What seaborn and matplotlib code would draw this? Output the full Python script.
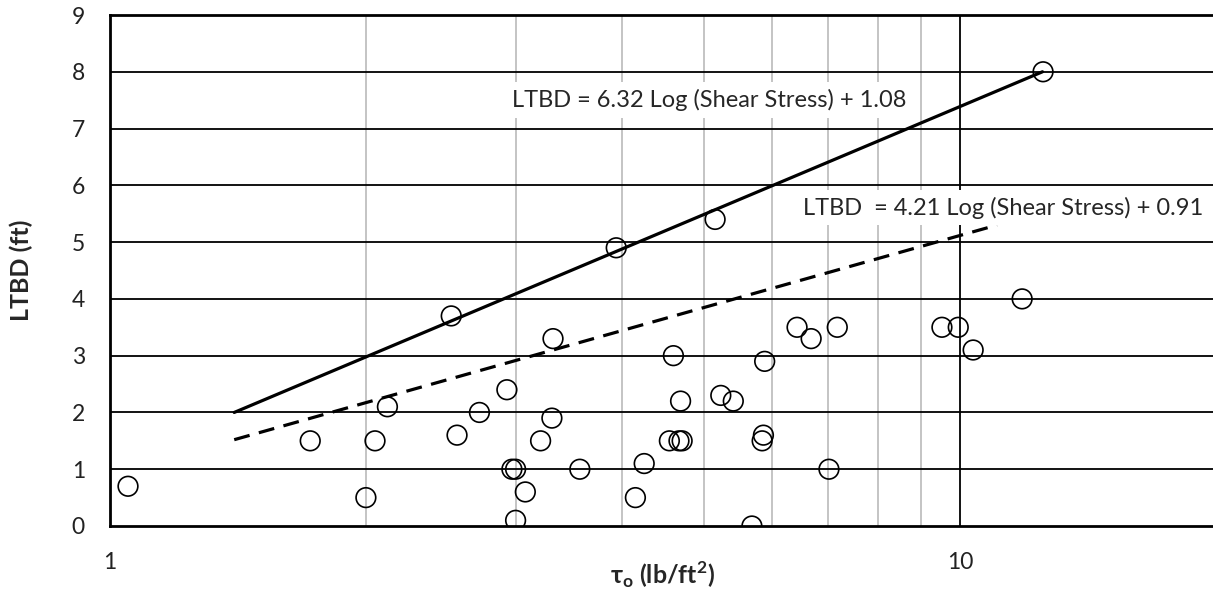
import numpy as np
import pandas as pd
import seaborn as sns
import matplotlib.pyplot as plt
from matplotlib.ticker import FixedLocator, NullFormatter

# shear stress (lb/ft2) and LTBD (ft)
tau = [1.05, 1.72, 2.0, 2.05, 2.12, 2.52, 2.56, 2.72, 2.93, 2.97, 3.0, 3.08, 3.0,
       3.21, 3.31, 3.32, 3.57, 3.94, 4.15, 4.25, 4.55, 4.67, 4.71, 4.6, 4.69,
       5.15, 5.23, 5.41, 5.69, 5.87, 5.85, 5.89, 6.43, 6.68, 7.17, 7.01,
       9.52, 9.95, 10.36, 11.83, 12.52]
ltbd = [0.7, 1.5, 0.5, 1.5, 2.1, 3.7, 1.6, 2.0, 2.4, 1.0, 1.0, 0.6, 0.1,
        1.5, 1.9, 3.3, 1.0, 4.9, 0.5, 1.1, 1.5, 1.5, 1.5, 3.0, 2.2,
        5.4, 2.3, 2.2, 0.0, 1.6, 1.5, 2.9, 3.5, 3.3, 3.5, 1.0,
        3.5, 3.5, 3.1, 4.0, 8.0]

# end points of the two fitted lines
upper_x = [1.4, 12.5]
upper_y = [2.0, 8.0]
lower_x = [1.4, 11.05]
lower_y = [1.52, 5.30]

upper_label = "LTBD = 6.32 Log (Shear Stress) + 1.08"
lower_label = "LTBD  = 4.21 Log (Shear Stress) + 0.91"

y_ticks = list(range(0, 10))
x_major = [1, 10]
x_minor = [2, 3, 4, 5, 6, 7, 8, 9]

sns.set_theme(style="white")
plt.rcParams['font.family'] = ['Lato', 'DejaVu Sans']
plt.rcParams['mathtext.fontset'] = 'custom'
plt.rcParams['mathtext.rm'] = 'Lato'
plt.rcParams['mathtext.bf'] = 'Lato:bold'

fig = plt.figure(figsize=(12.13, 5.92), dpi=100)
ax = fig.add_axes([110 / 1213, 66 / 592, 1106 / 1213, 511 / 592])

df = pd.DataFrame({"tau": tau, "ltbd": ltbd})
sns.lineplot(x=upper_x, y=upper_y, ax=ax, color="black", lw=2.3, zorder=3)
sns.lineplot(x=lower_x, y=lower_y, ax=ax, color="black", lw=2.3, zorder=3,
             linestyle=(0, (5, 3)))
sns.scatterplot(data=df, x="tau", y="ltbd", ax=ax, s=200, marker="o",
                facecolor="none", edgecolor="black", linewidth=1.2, zorder=4)

ax.set_xscale("log")
ax.set_xlim(1, 20)
ax.set_ylim(0, 9)
ax.xaxis.set_major_locator(FixedLocator(x_major))
ax.xaxis.set_minor_locator(FixedLocator(x_minor))
ax.xaxis.set_minor_formatter(NullFormatter())
ax.set_xticklabels(["1", "10"])
ax.set_yticks(y_ticks)

ax.grid(False)
for y in y_ticks[1:]:
    ax.axhline(y, color="black", lw=1.3, zorder=1)
for x in x_minor:
    ax.axvline(x, color="#bfbfbf", lw=1.3, zorder=0.5)
ax.axvline(10, color="black", lw=1.3, zorder=1)

for side in ["left", "bottom", "top"]:
    ax.spines[side].set_color("black")
    ax.spines[side].set_linewidth(2)
ax.spines["right"].set_visible(False)

ax.tick_params(axis="both", which="both", length=0, labelsize=16.5, colors="#222222")
ax.tick_params(axis="y", pad=18)
ax.tick_params(axis="x", pad=19)

ax.set_ylabel("LTBD (ft)", fontsize=18, fontweight="bold")
ax.yaxis.set_label_coords(-0.07, 0.5)
ax.set_xlabel(r"τ$_\mathbf{o}$ (lb/ft$^\mathbf{2}$)", fontsize=18,
              fontweight="bold")
ax.xaxis.set_label_coords(0.5, -0.065)

box = dict(facecolor="white", edgecolor="none", pad=5)
ax.text(2.97, 7.5, upper_label, fontsize=17, ha="left", va="center",
        bbox=box, zorder=5)
ax.text(6.54, 5.61, lower_label, fontsize=17, ha="left", va="center",
        bbox=box, zorder=5)

fig.savefig("out.png", dpi=100)
